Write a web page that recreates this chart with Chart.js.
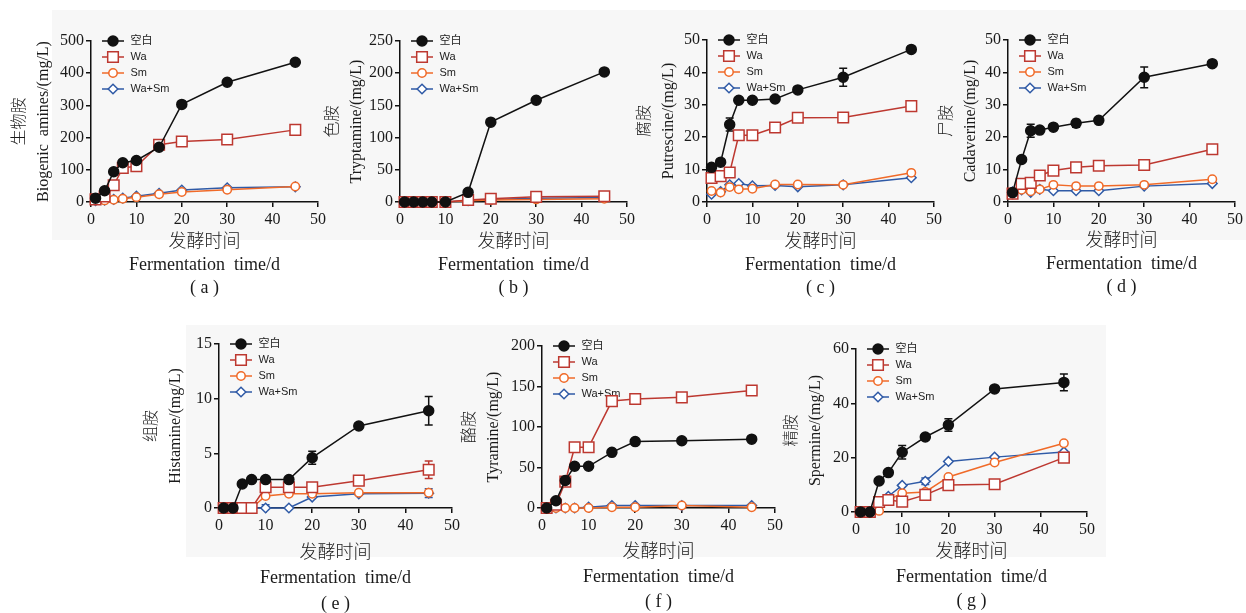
<!DOCTYPE html>
<html>
<head>
<meta charset="utf-8">
<script src="https://cdn.jsdelivr.net/npm/chart.js@4.4.1/dist/chart.umd.min.js"></script>
<style>
  html, body { margin: 0; padding: 0; background: #fff; width: 1246px; height: 613px; overflow: hidden; position: relative; }
  .bg { position: absolute; background: #f7f7f7; }
  canvas { position: absolute; }
</style>
</head>
<body>
<div class="bg" style="left:52px;top:10px;width:1194px;height:230px"></div>
<div class="bg" style="left:186px;top:325px;width:920px;height:232px"></div>
<canvas id="pa"></canvas>
<canvas id="pb"></canvas>
<canvas id="pc"></canvas>
<canvas id="pd"></canvas>
<canvas id="pe"></canvas>
<canvas id="pf"></canvas>
<canvas id="pg"></canvas>
<script>
// 发酵天数
const days = [1, 3, 5, 7, 10, 15, 20, 30, 45];
const seriesNames = ['空白', 'Wa', 'Sm', 'Wa+Sm'];
const xTitle = ['发酵时间', 'Fermentation  time/d'];
const xTicks = [0, 10, 20, 30, 40, 50];

// (a) 生物胺
const biogenicBlank = [12, 35, 94, 122, 129, 170, 303, 372, 434];
const biogenicWa = [8, 17, 52, 106, 111, 178, 188, 194, 224];
const biogenicSm = [5, 5, 7, 10, 15, 24, 31, 38, 48];
const biogenicWaSm = [4, 6, 8, 12, 18, 27, 37, 44, 47];
const biogenicTicks = [0, 100, 200, 300, 400, 500];

// (b) 色胺
const tryptBlank = [0, 0, 0, 0, 0, 15, 124, 158, 202];
const tryptWa = [0, 0, 0, 0, 0, 3, 5, 8, 9];
const tryptSm = [0, 0, 0, 0, 0, 2, 3, 4, 5];
const tryptWaSm = [0, 0, 0, 0, 0, 2, 4, 6, 7];
const tryptTicks = [0, 50, 100, 150, 200, 250];

// (c) 腐胺
const putrBlank = [10.7, 12.3, 23.9, 31.4, 31.4, 31.8, 34.6, 38.5, 47.1];
const putrWa = [7.4, 8.0, 9.1, 20.6, 20.6, 23.0, 26.0, 26.1, 29.6];
const putrSm = [3.4, 2.9, 4.6, 3.9, 4.1, 5.4, 5.4, 5.3, 9.0];
const putrWaSm = [2.4, 3.2, 5.3, 5.7, 5.0, 5.1, 4.7, 5.3, 7.5];
const putrBlankErr = [0, 0, 2, 0, 0, 0, 0, 2.8, 0];
const putrWaErr = [0, 0, 0, 0, 0, 0, 1, 0, 1.3];
const putrTicks = [0, 10, 20, 30, 40, 50];

// (d) 尸胺
const cadBlank = [2.9, 13.1, 22.0, 22.2, 23.1, 24.3, 25.2, 38.5, 42.7];
const cadWa = [2.6, 5.6, 5.9, 8.2, 9.7, 10.7, 11.2, 11.4, 16.3];
const cadSm = [2.3, 3.8, 3.3, 3.9, 5.3, 4.9, 4.9, 5.3, 7.0];
const cadWaSm = [3.1, 3.7, 3.0, 3.9, 3.5, 3.5, 3.5, 4.9, 5.7];
const cadBlankErr = [0, 0, 2, 0, 0, 1.2, 0, 3.2, 0];
const cadWaErr = [0, 0, 0, 0, 0, 0, 0.8, 0, 0];
const cadTicks = [0, 10, 20, 30, 40, 50];

// (e) 组胺
const histBlank = [0, 0, 2.2, 2.6, 2.6, 2.6, 4.6, 7.5, 8.9];
const histWa = [0, 0, 0, 0, 1.9, 1.9, 1.9, 2.5, 3.5];
const histSm = [0, 0, 0, 0, 1.1, 1.3, 1.3, 1.4, 1.4];
const histWaSm = [0, 0, 0, 0, 0, 0, 1.0, 1.3, 1.35];
const histBlankErr = [0, 0, 0, 0, 0, 0, 0.6, 0.3, 1.3];
const histWaErr = [0, 0, 0, 0, 0, 0, 0, 0, 0.8];
const histWaSmErr = [0, 0, 0, 0, 0.3, 0, 0, 0, 0.4];
const histTicks = [0, 5, 10, 15];

// (f) 酪胺
const tyrBlank = [0, 9, 34, 51.5, 51.5, 68.7, 82, 83, 85];
const tyrWa = [0, 4, 32.5, 75, 75, 132, 134.5, 136.6, 145];
const tyrSm = [0, 0, 0, 0, 0, 1, 1, 3, 1];
const tyrWaSm = [0, 0, 0, 0, 1, 3, 3, 3, 3];
const tyrTicks = [0, 50, 100, 150, 200];

// (g) 精胺
const spermBlank = [0, 0, 11.4, 14.5, 22, 27.6, 32, 45.3, 47.7];
const spermWa = [0, 0, 3.7, 4.4, 3.8, 6.3, 9.9, 10.2, 20];
const spermSm = [0, 0, 0.4, 4.5, 6.9, 7.4, 12.9, 18.2, 25.3];
const spermWaSm = [0, 0, 2.5, 5.8, 9.8, 11.3, 18.6, 20.2, 22.1];
const spermBlankErr = [0, 0, 0, 0, 2.5, 1, 2.3, 0, 3.1];
const spermWaErr = [0, 0, 0, 0, 0, 0.8, 0, 1.3, 0];
const spermWaSmErr = [0, 0, 0, 0, 0, 1.2, 0, 0, 0];
const spermTicks = [0, 20, 40, 60];

const serifFont = "'Liberation Serif', 'Noto Sans CJK SC', serif";
const sansFont = "'Liberation Sans', 'Noto Sans CJK SC', sans-serif";
const inkColor = '#1a1a1a';

// 系列样式：空白 黑色实心圆，Wa 红方框，Sm 橙圆圈，Wa+Sm 蓝菱形
const seriesStyles = [
  { color: '#111111', style: 'circle', r: 5, fill: '#111111' },
  { color: '#bd3830', style: 'rect', r: 7.5, fill: '#ffffff' },
  { color: '#f06a28', style: 'circle', r: 4.2, fill: '#ffffff' },
  { color: '#2f5aa6', style: 'rectRot', r: 4.8, fill: '#ffffff' }
];

// 图例小图标：线 + 标记
function makeIcon(s) {
  const c = document.createElement('canvas');
  c.width = 22; c.height = 16;
  const g = c.getContext('2d');
  g.strokeStyle = s.color; g.fillStyle = s.fill; g.lineWidth = 1.5;
  g.beginPath(); g.moveTo(0, 8); g.lineTo(22, 8); g.stroke();
  g.beginPath();
  if (s.style === 'circle') {
    g.arc(11, 8, s.r, 0, Math.PI * 2);
  } else if (s.style === 'rect') {
    const h = s.r * Math.SQRT1_2;
    g.rect(11 - h, 8 - h, 2 * h, 2 * h);
  } else {
    g.moveTo(11, 8 - s.r); g.lineTo(11 + s.r, 8); g.lineTo(11, 8 + s.r); g.lineTo(11 - s.r, 8); g.closePath();
  }
  g.fill(); g.stroke();
  return c;
}
const icons = seriesStyles.map(makeIcon);

// 误差线
const errorBars = {
  id: 'errorBars',
  beforeDatasetsDraw(chart) {
    const { ctx, scales: { x, y } } = chart;
    chart.data.datasets.forEach((ds) => {
      if (!ds.errors) return;
      ctx.save();
      ctx.strokeStyle = ds.borderColor;
      ctx.lineWidth = 1.5;
      ds.data.forEach((p, i) => {
        const e = ds.errors[i];
        if (!e) return;
        const px = x.getPixelForValue(p.x);
        const top = y.getPixelForValue(p.y + e);
        const bot = y.getPixelForValue(Math.max(p.y - e, 0));
        ctx.beginPath();
        ctx.moveTo(px, top); ctx.lineTo(px, bot);
        ctx.moveTo(px - 4, top); ctx.lineTo(px + 4, top);
        ctx.moveTo(px - 4, bot); ctx.lineTo(px + 4, bot);
        ctx.stroke();
      });
      ctx.restore();
    });
  }
};

// 把图例挪到坐标轴左上角（legend 的 top 在布局里被重置为 0）
const legendShift = {
  id: 'legendShift',
  afterLayout(chart) {
    const lg = chart.legend;
    if (!lg) return;
    const area = chart.chartArea;
    lg.top = area.top - 10.5;
    lg.bottom = area.bottom;
    lg.left = area.left + 5;
  }
};

const panels = [
  { id: 'pa', tag: '( a )', zh: '生物胺', en: 'Biogenic  amines/(mg/L)', ticks: biogenicTicks,
    series: [biogenicBlank, biogenicWa, biogenicSm, biogenicWaSm], errors: [],
    area: [91, 318, 41, 202], yw: 83, lh: 23, xh: 98 },
  { id: 'pb', tag: '( b )', zh: '色胺', en: 'Tryptamine/(mg/L)', ticks: tryptTicks,
    series: [tryptBlank, tryptWa, tryptSm, tryptWaSm], errors: [],
    area: [400, 627, 41, 202], yw: 79, lh: 23, xh: 98 },
  { id: 'pc', tag: '( c )', zh: '腐胺', en: 'Putrescine/(mg/L)', ticks: putrTicks,
    series: [putrBlank, putrWa, putrSm, putrWaSm], errors: [putrBlankErr, putrWaErr],
    area: [707, 934, 40, 202], yw: 74, lh: 23, xh: 98 },
  { id: 'pd', tag: '( d )', zh: '尸胺', en: 'Cadaverine/(mg/L)', ticks: cadTicks,
    series: [cadBlank, cadWa, cadSm, cadWaSm], errors: [cadBlankErr, cadWaErr],
    area: [1008, 1235, 40, 202], yw: 73, lh: 23, xh: 97 },
  { id: 'pe', tag: '( e )', zh: '组胺', en: 'Histamine/(mg/L)', ticks: histTicks,
    series: [histBlank, histWa, histSm, histWaSm], errors: [histBlankErr, histWaErr, null, histWaSmErr],
    area: [219, 452, 344, 508], yw: 79, lh: 25.5, xh: 109 },
  { id: 'pf', tag: '( f )', zh: '酪胺', en: 'Tyramine/(mg/L)', ticks: tyrTicks,
    series: [tyrBlank, tyrWa, tyrSm, tyrWaSm], errors: [],
    area: [542, 775, 346, 507.5], yw: 84, lh: 25, xh: 107 },
  { id: 'pg', tag: '( g )', zh: '精胺', en: 'Spermine/(mg/L)', ticks: spermTicks,
    series: [spermBlank, spermWa, spermSm, spermWaSm], errors: [spermBlankErr, spermWaErr, null, spermWaSmErr],
    area: [856, 1087, 349, 512], yw: 76, lh: 24.5, xh: 102 }
];

const padTop = 12, padRight = 14;

panels.forEach((p) => {
  const [al, ar, at, ab] = p.area;
  const cv = document.getElementById(p.id);
  const w = Math.round(p.yw + (ar - al) + padRight);
  const h = Math.round(padTop + (ab - at) + p.xh);
  cv.width = w; cv.height = h;
  cv.style.left = (al - p.yw) + 'px';
  cv.style.top = (at - padTop) + 'px';
  cv.style.width = w + 'px';
  cv.style.height = h + 'px';

  const yMax = p.ticks[p.ticks.length - 1];
  const yStep = p.ticks[1] - p.ticks[0];

  const datasets = p.series.map((vals, k) => {
    const s = seriesStyles[k];
    return {
      label: seriesNames[k],
      data: days.map((d, i) => ({ x: d, y: vals[i] })),
      errors: p.errors[k] || null,
      borderColor: s.color,
      backgroundColor: s.fill,
      borderWidth: 1.5,
      pointStyle: s.style,
      pointRadius: s.r,
      pointBorderWidth: 1.5,
      pointBackgroundColor: s.fill,
      pointBorderColor: s.color,
      tension: 0,
      fill: false,
      clip: false
    };
  });

  new Chart(cv, {
    type: 'line',
    data: { datasets },
    plugins: [errorBars, legendShift],
    options: {
      responsive: false,
      animation: false,
      events: [],
      layout: { padding: { top: padTop, right: padRight, left: 0, bottom: 0 } },
      plugins: {
        tooltip: { enabled: false },
        legend: {
          position: 'chartArea',
          align: 'start',
          labels: {
            usePointStyle: true,
            pointStyleWidth: 24,
            padding: 5,
            color: '#222',
            font: { family: sansFont, size: 11 },
            generateLabels(chart) {
              const items = Chart.defaults.plugins.legend.labels.generateLabels(chart);
              items.forEach((it, i) => { it.pointStyle = icons[i]; });
              return items;
            }
          }
        }
      },
      scales: {
        x: {
          type: 'linear',
          min: 0, max: 50,
          afterFit(s) { s.height = p.xh; },
          afterBuildTicks(s) { s.ticks = xTicks.map((v) => ({ value: v })); },
          border: { display: true, color: '#111', width: 1.5 },
          grid: { drawOnChartArea: false, drawTicks: true, tickLength: 5, color: '#111', lineWidth: 1.5 },
          ticks: { color: inkColor, padding: 3, font: { family: serifFont, size: 16 }, autoSkip: false, maxRotation: 0 },
          title: {
            display: true,
            text: [...xTitle, p.tag],
            color: inkColor,
            padding: { top: 0, bottom: 0 },
            font: { family: serifFont, size: 18, weight: 300, lineHeight: p.lh / 18 }
          }
        },
        y: {
          type: 'linear',
          min: 0, max: yMax,
          afterFit(s) { s.width = p.yw; },
          afterBuildTicks(s) { s.ticks = p.ticks.map((v) => ({ value: v })); },
          border: { display: true, color: '#111', width: 1.5 },
          grid: { drawOnChartArea: false, drawTicks: true, tickLength: 5, color: '#111', lineWidth: 1.5 },
          ticks: { color: inkColor, padding: 2, stepSize: yStep, font: { family: serifFont, size: 16 }, autoSkip: false },
          title: {
            display: true,
            text: [p.zh, p.en],
            color: inkColor,
            padding: { top: 0, bottom: 0 },
            font: { family: serifFont, size: 16, weight: 300, lineHeight: 1.5 }
          }
        }
      }
    }
  });
});
</script>
</body>
</html>
